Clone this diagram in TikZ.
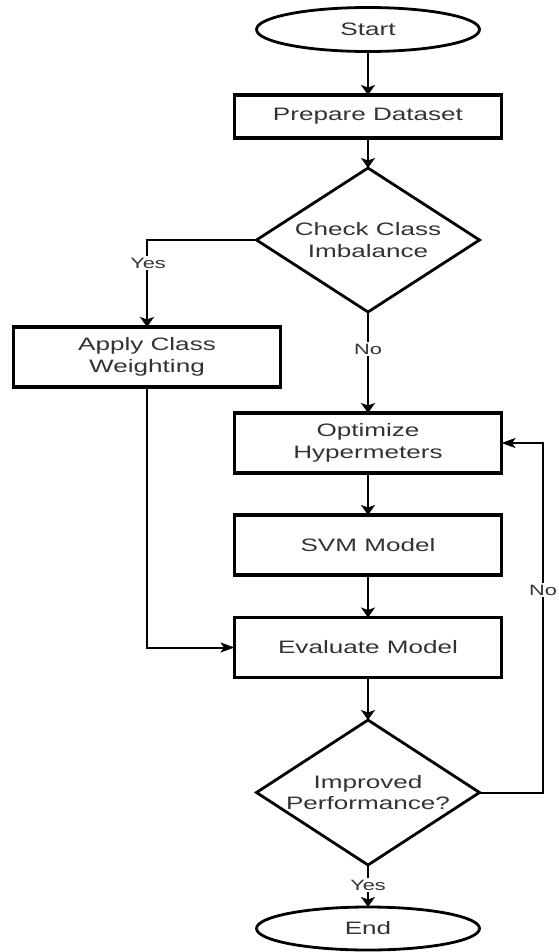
\documentclass[tikz,border=0pt]{standalone}
\usepackage{fontspec}
\setmainfont{Liberation Sans}[FakeStretch=1.45]
\usetikzlibrary{shapes.geometric,arrows.meta}
\begin{document}
\begin{tikzpicture}[x=1pt,y=-1pt,
  every node/.style={font=\fontsize{18}{21.6}\selectfont, text=black!80},
  box/.style={draw=black, line width=3.1pt, rectangle, minimum width=267pt,
    minimum height=60pt, align=center, inner sep=0pt, outer sep=0pt},
  term/.style={draw=black, line width=2.8pt, ellipse, minimum width=223pt,
    minimum height=44pt, inner sep=0pt, outer sep=0pt},
  decision/.style={draw=black, line width=2.8pt, diamond, minimum width=223pt,
    minimum height=144pt, shape aspect=1.55, align=center, inner sep=0pt, outer sep=0pt},
  link/.style={draw=black, line width=2pt},
  varrow/.style={link, -{Stealth[length=10pt,width=14pt,inset=2.5pt]}},
  harrow/.style={link, -{Stealth[length=14pt,width=10pt,inset=3.5pt]}},
  lbl/.style={fill=white, inner sep=1.5pt, font=\fontsize{15}{18}\selectfont}
]
\useasboundingbox[fill=white] (0,0) rectangle (558,952);

% main column
\node[term] (start) at (368,29.5) {Start};
\node[box, minimum height=43pt] (prep) at (368,116.5) {Prepare Dataset};
\node[decision] (check) at (368,240) {Check Class\\Imbalance};
\node[box] (apply) at (147,357) {Apply Class\\Weighting};
\node[box] (opt) at (368,443) {Optimize\\Hypermeters};
\node[box] (svm) at (368,545) {SVM Model};
\node[box] (eval) at (368,647.5) {Evaluate Model};
\node[decision, minimum height=145pt] (improved) at (368,792.5) {Improved\\Performance?};
\node[term, minimum height=43pt] (end) at (368,928.5) {End};

\coordinate (loop) at (543,792.5);

% connectors
\draw[varrow] (start) -- (prep);
\draw[varrow] (prep) -- (check);
\draw[varrow] (check.west) -| (apply.north);
\draw[varrow] (check.south) -- (opt.north);
\draw[varrow] (opt) -- (svm);
\draw[varrow] (svm) -- (eval);
\draw[harrow] (apply.south) |- (eval.west);
\draw[varrow] (eval) -- (improved.north);
\draw[varrow] (improved.south) -- (end);
\draw[harrow] (improved.east) -- (loop) |- (opt.east);

% branch labels
\node[lbl] (yesA) at (148,263) {Yes};
\node[lbl] (noA) at (368,349) {No};
\node[lbl] (noB) at (543,590) {No};
\node[lbl] (yesB) at (368,885) {Yes};
\end{tikzpicture}
\end{document}
